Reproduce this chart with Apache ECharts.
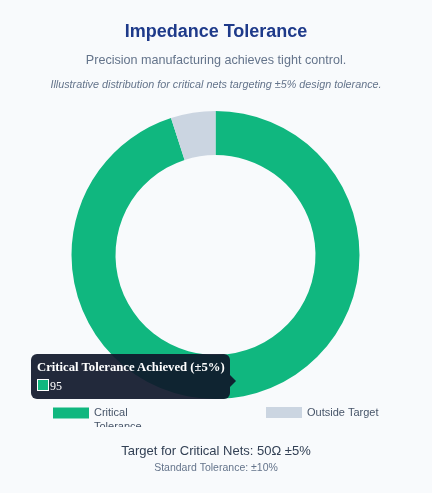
<!DOCTYPE html>
<html>
<head>
<meta charset="utf-8">
<script src="https://cdn.jsdelivr.net/npm/echarts@6/dist/echarts.min.js"></script>
<style>
html,body{margin:0;padding:0;background:#f8fafc;}
#main{width:432px;height:493px;}
</style>
</head>
<body>
<div id="main"></div>
<script>
var categories = ['Critical Tolerance Achieved (±5%)', 'Outside Target'];
var values = [95, 5];
var colors = ['#10b77f', '#cbd5e1'];

var myChart = echarts.init(document.getElementById('main'));
var font = '"Liberation Sans", Arial, sans-serif';

var pieData = [];
for (var i = 0; i < categories.length; i++) {
	pieData.push({name: categories[i], value: values[i], itemStyle: {color: colors[i]}});
}

var option = {
	backgroundColor: '#f8fafc',
	textStyle: {fontFamily: font},
	title: [{
		text: 'Impedance Tolerance',
		left: 'center', top: 18,
		textStyle: {fontSize: 18, fontWeight: 'bold', color: '#1e3a8a', fontFamily: font}
	}, {
		text: 'Precision manufacturing achieves tight control.',
		left: 'center', top: 49,
		textStyle: {fontSize: 12.6, fontWeight: 'normal', color: '#64748b', fontFamily: font}
	}, {
		text: 'Illustrative distribution for critical nets targeting ±5% design tolerance.',
		left: 'center', top: 74,
		textStyle: {fontSize: 10.8, fontStyle: 'italic', fontWeight: 'normal', color: '#64748b', fontFamily: font}
	}, {
		text: 'Target for Critical Nets: 50Ω ±5%',
		left: 'center', top: 440,
		textStyle: {fontSize: 13, fontWeight: 'normal', color: '#334155', fontFamily: font}
	}, {
		text: 'Standard Tolerance: ±10%',
		left: 'center', top: 458,
		textStyle: {fontSize: 10.5, fontWeight: 'normal', color: '#64748b', fontFamily: font}
	}],
	tooltip: {
		trigger: 'item',
		alwaysShowContent: true,
		triggerOn: 'none',
		position: [31, 354],
		backgroundColor: 'rgba(15,23,42,0.92)',
		borderWidth: 0,
		padding: [6, 6],
		extraCssText: 'border-radius:6px;box-shadow:none;width:187px;height:33px;overflow:visible;',
		formatter: function (p) {
			return '<div style="position:relative;font-family:\'Liberation Serif\',serif;color:#fff;">' +
				'<div style="font-weight:bold;font-size:12.7px;line-height:15px;">' + p.name + '</div>' +
				'<div style="font-size:12px;line-height:16px;margin-top:3px;">' +
				'<span style="display:inline-block;width:10px;height:10px;background:' + p.color + ';border:1px solid #fff;vertical-align:-1px;margin-right:1px;"></span>' + p.value + '</div>' +
				'<span style="position:absolute;right:-12px;top:15px;width:0;height:0;border-top:6px solid transparent;border-bottom:6px solid transparent;border-left:6px solid rgba(15,23,42,0.92);"></span>' +
				'</div>';
		}
	},
	legend: [{
		data: [categories[0]],
		left: 53, top: 392, padding: 0,
		icon: 'rect', itemWidth: 36, itemHeight: 11, itemGap: 6,
		selectedMode: false,
		formatter: function () { return '{s| }\n{t|Critical}\n{t|Tolerance}'; },
		textStyle: {
			fontSize: 11, color: '#475569', lineHeight: 14, fontFamily: font,
			rich: {
				s: {fontSize: 11, lineHeight: 14},
				t: {fontSize: 11, lineHeight: 14, color: '#475569', fontFamily: font}
			}
		}
	}, {
		data: [categories[1]],
		left: 266, top: 407, padding: 0,
		icon: 'rect', itemWidth: 36, itemHeight: 11, itemGap: 6,
		selectedMode: false,
		textStyle: {fontSize: 11, color: '#475569', fontFamily: font}
	}],
	graphic: [{
		type: 'rect', z: 100,
		shape: {x: 90, y: 427, width: 120, height: 12},
		style: {fill: '#f8fafc'}
	}],
	series: [{
		type: 'pie',
		center: [215.5, 255],
		radius: [100, 144],
		startAngle: 90,
		clockwise: true,
		label: {show: false},
		labelLine: {show: false},
		emphasis: {scale: false},
		itemStyle: {borderWidth: 0},
		data: pieData
	}]
};
myChart.setOption(option, true);
myChart.dispatchAction({type: 'showTip', seriesIndex: 0, dataIndex: 0});
</script>
</body>
</html>
